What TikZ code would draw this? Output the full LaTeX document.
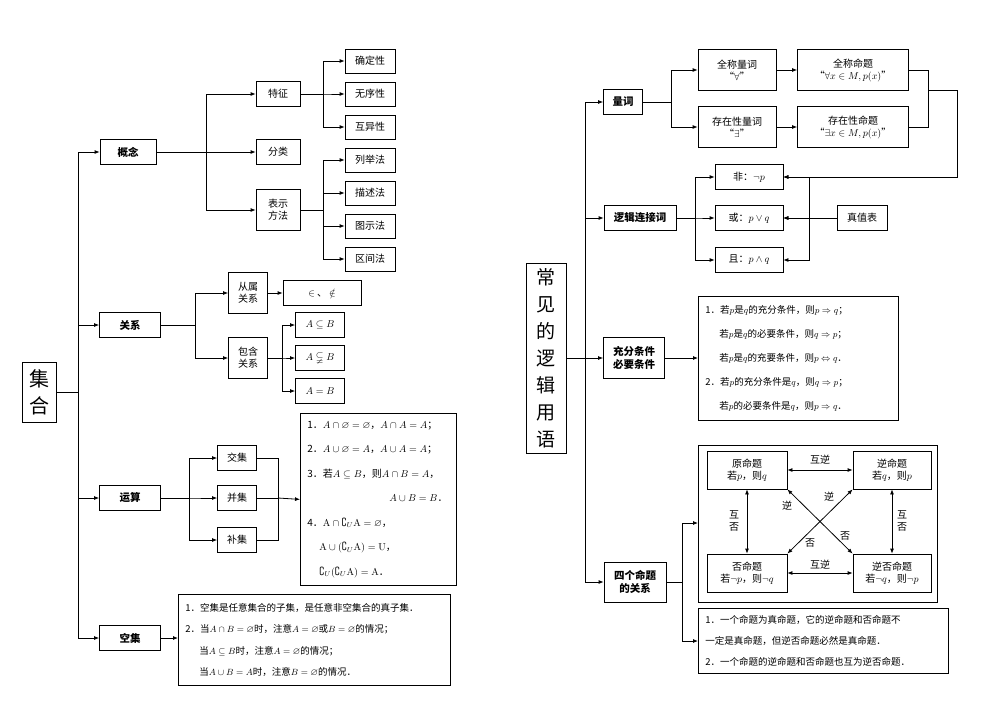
\documentclass[tikz,border=0pt]{standalone}
\usepackage{amssymb}
\usepackage{fontspec}
\newfontfamily\cjk{Noto Sans CJK SC}
\usetikzlibrary{arrows.meta}
\begin{document}
\begin{tikzpicture}[x=1pt,y=-1pt,
  every node/.style={font=\cjk\fontsize{10}{12}\selectfont},
  box/.style={draw,line width=0.8pt,inner sep=1pt,align=center},
  bb/.style={box,font=\cjk\bfseries\fontsize{10.5}{13}\selectfont},
  ln/.style={line width=0.8pt},
  arr/.style={ln,-{Latex[length=5pt,width=4pt]}},
  dar/.style={ln,{Latex[length=5pt,width=4pt]}-{Latex[length=5pt,width=4pt]}},
  txt/.style={draw,line width=0.8pt,anchor=north west,align=left,inner xsep=7pt,inner ysep=3pt}]
\useasboundingbox (0,0) rectangle (1004,723);
% ---------- left ----------
\node[box,minimum width=34,minimum height=60,font=\cjk\fontsize{20}{27}\selectfont] (jh) at (39,392) {集\\合};
\node[bb,minimum width=56,minimum height=25] (gn) at (128,152) {概念};
\node[bb,minimum width=61,minimum height=25] (gx) at (130,325) {关系};
\node[bb,minimum width=61,minimum height=25] (ys) at (130,498) {运算};
\node[bb,minimum width=61,minimum height=25] (kj) at (130,638) {空集};
\coordinate (t1) at (78,392);
\draw[ln] (jh.east) -- (t1);
\draw[arr] (t1) |- (gn.west);
\draw[arr] (t1) |- (gx.west);
\draw[arr] (t1) |- (ys.west);
\draw[arr] (t1) |- (kj.west);
% 概念
\node[box,minimum width=44,minimum height=25] (tz) at (278,94) {特征};
\node[box,minimum width=44,minimum height=25] (fl) at (278,152) {分类};
\node[box,minimum width=44,minimum height=41] (bs) at (278,210) {表示\\方法};
\draw[arr] (gn.east) -- ++(50,0) |- (tz.west);
\draw[arr] (gn.east) -- (fl.west);
\draw[arr] (gn.east) -- ++(50,0) |- (bs.west);
\foreach \n/\t/\y in {q1/确定性/61,q2/无序性/94,q3/互异性/127}{
  \node[box,minimum width=50,minimum height=24] (\n) at (370,\y) {\t};
  \draw[arr] (tz.east) -- ++(23,0) |- (\n.west);}
\foreach \n/\t/\y in {r1/列举法/160,r2/描述法/193,r3/图示法/226,r4/区间法/259}{
  \node[box,minimum width=50,minimum height=24] (\n) at (370,\y) {\t};
  \draw[arr] (bs.east) -- ++(23,0) |- (\n.west);}
% 关系
\node[box,minimum width=39,minimum height=41] (cs) at (248,293) {从属\\关系};
\node[box,minimum width=39,minimum height=41] (bh) at (248,358) {包含\\关系};
\draw[arr] (gx.east) -- ++(34,0) |- (cs.west);
\draw[arr] (gx.east) -- ++(34,0) |- (bh.west);
\node[box,minimum width=78,minimum height=25] (sy) at (322,293) {$\in$\hspace{2pt}、\hspace{2pt}$\notin$};
\draw[arr] (cs.east) -- (sy.west);
\foreach \n/\t/\y in {s1/{$A\subseteq B$}/325,s2/{$A\subsetneqq B$}/358,s3/{$A=B$}/391}{
  \node[box,minimum width=49,minimum height=25] (\n) at (320,\y) {\t};
  \draw[arr] (bh.east) -- ++(14,0) |- (\n.west);}
% 运算
\node[box,minimum width=39,minimum height=25] (jj) at (237,458) {交集};
\node[box,minimum width=39,minimum height=25] (bj) at (237,498) {并集};
\node[box,minimum width=39,minimum height=25] (buj) at (237,540) {补集};
\node[txt,text width=142,minimum height=172,font=\cjk\fontsize{10}{24.5}\selectfont] (ops) at (300,413) {%
1．$A\cap\varnothing=\varnothing$，$A\cap A=A$；\\
2．$A\cup\varnothing=A$，$A\cup A=A$；\\
3．若$A\subseteq B$，则$A\cap B=A$，\\
\hspace*{82pt}$A\cup B=B$．\\
4．$\mathrm{A}\cap\complement_{U}\mathrm{A}=\varnothing$，\\
\hspace*{12pt}$\mathrm{A}\cup(\complement_{U}\mathrm{A})=\mathrm{U}$，\\
\hspace*{12pt}$\complement_{U}(\complement_{U}\mathrm{A})=\mathrm{A}$．};
\coordinate (t3) at (278,498);
\foreach \n in {jj,bj,buj}{
  \draw[arr] (ys.east) -- ++(28,0) |- (\n.west);
  \draw[ln] (\n.east) -| (t3);}
\draw[arr] (t3) -- (ops.west);
% 空集
\node[txt,text width=258,minimum height=91,font=\cjk\fontsize{9.5}{21.5}\selectfont] (kjt) at (178,594) {%
1．空集是任意集合的子集，是任意非空集合的真子集．\\
2．当$A\cap B=\varnothing$时，注意$A=\varnothing$或$B=\varnothing$的情况；\\
\hspace*{14pt}当$A\subseteq B$时，注意$A=\varnothing$的情况；\\
\hspace*{14pt}当$A\cup B=A$时，注意$B=\varnothing$的情况．};
\draw[arr] (kj.east) -- (kjt.west |- kj.east);
% ---------- right ----------
\node[box,minimum width=40,minimum height=190,font=\cjk\fontsize{19}{27}\selectfont] (cy) at (546,358) {常\\见\\的\\逻\\辑\\用\\语};
\node[bb,minimum width=39,minimum height=25] (lc) at (623,102) {量词};
\node[bb,minimum width=72,minimum height=25] (lj) at (640,218) {逻辑连接词};
\node[bb,minimum width=61,minimum height=41] (cf) at (634,358) {充分条件\\必要条件};
\node[bb,minimum width=62,minimum height=40] (sg) at (635,582) {四个命题\\的关系};
\coordinate (t2) at (585,358);
\draw[ln] (cy.east) -- (t2);
\draw[arr] (t2) |- (lc.west);
\draw[arr] (t2) |- (lj.west);
\draw[arr] (t2) |- (cf.west);
\draw[arr] (t2) |- (sg.west);
% 量词
\node[box,minimum width=78,minimum height=41] (qc) at (737,70) {全称量词\\“$\forall$”};
\node[box,minimum width=78,minimum height=41] (cz) at (737,127) {存在性量词\\“$\exists$”};
\node[box,minimum width=111,minimum height=41] (qm) at (853,70) {全称命题\\“$\forall x\in M,p(x)$”};
\node[box,minimum width=111,minimum height=41] (cm) at (853,127) {存在性命题\\“$\exists x\in M,p(x)$”};
\draw[arr] (lc.east) -- ++(28,0) |- (qc.west);
\draw[arr] (lc.east) -- ++(28,0) |- (cz.west);
\draw[arr] (qc.east) -- (qm.west);
\draw[arr] (cz.east) -- (cm.west);
\coordinate (m1) at (928,90);
\draw[ln] (qm.east) -| (m1);
\draw[ln] (cm.east) -| (m1);
% 逻辑连接词
\node[box,minimum width=68,minimum height=25] (f) at (749,177) {非：$\neg p$};
\node[box,minimum width=68,minimum height=25] (h) at (749,218) {或：$p\vee q$};
\node[box,minimum width=68,minimum height=25] (q) at (749,260) {且：$p\wedge q$};
\node[box,minimum width=50,minimum height=25] (zz) at (862,218) {真值表};
\draw[arr] (m1) -- (957,90) |- (f.east);
\foreach \n in {f,h,q}{
  \draw[arr] (lj.east) -- ++(19,0) |- (\n.west);
  \draw[arr] (809,218) |- (\n.east);}
\draw[arr] (zz.west) -- (h.east);
% 充分条件
\node[txt,text width=186,minimum height=124,font=\cjk\fontsize{9.5}{24}\selectfont] (cft) at (698,296) {%
1．若$p$是$q$的充分条件，则$p\Rightarrow q$；\\
\hspace*{14pt}若$p$是$q$的必要条件，则$q\Rightarrow p$；\\
\hspace*{14pt}若$p$是$q$的充要条件，则$p\Leftrightarrow q$．\\
2．若$p$的充分条件是$q$，则$q\Rightarrow p$；\\
\hspace*{14pt}若$p$的必要条件是$q$，则$p\Rightarrow q$．};
\draw[arr] (cf.east) -- (cft.west |- cf.east);
% 四个命题
\node[draw,line width=0.8pt,minimum width=239,minimum height=157,anchor=north west] (big) at (698,445) {};
\node[txt,text width=236,minimum height=65,font=\cjk\fontsize{9.5}{21}\selectfont] (sgt) at (698,608) {%
1．一个命题为真命题，它的逆命题和否命题不\\
一定是真命题，但逆否命题必然是真命题．\\
2．一个命题的逆命题和否命题也互为逆否命题．};
\draw[arr] (sg.east) -- ++(16,0) |- (big.west |- 0,523);
\draw[arr] (sg.east) -- ++(16,0) |- (sgt.west |- 0,641);
\node[box,minimum width=80,minimum height=38] (ym) at (747,470) {原命题\\若$p$，则$q$};
\node[box,minimum width=78,minimum height=38] (nm) at (892,470) {逆命题\\若$q$，则$p$};
\node[box,minimum width=80,minimum height=38] (fm) at (747,573) {否命题\\若$\neg p$，则$\neg q$};
\node[box,minimum width=78,minimum height=38] (nf) at (892,573) {逆否命题\\若$\neg q$，则$\neg p$};
\draw[dar] (ym.east) -- (nm.west);
\draw[dar] (fm.east) -- (nf.west);
\draw[dar] (ym.south) -- (fm.north);
\draw[dar] (nm.south) -- (nf.north);
\draw[dar] (ym.south east) -- (nf.north west);
\draw[dar] (nm.south west) -- (fm.north east);
\node (l1) at (820,460) {互逆};
\node (l2) at (820,565) {互逆};
\node[align=center] (l3) at (734,521) {互\\否};
\node[align=center] (l4) at (902,521) {互\\否};
\node (l5) at (787,506) {逆};
\node (l6) at (829,497) {逆};
\node (l7) at (810,543) {否};
\node (l8) at (845,536) {否};
\end{tikzpicture}
\end{document}
